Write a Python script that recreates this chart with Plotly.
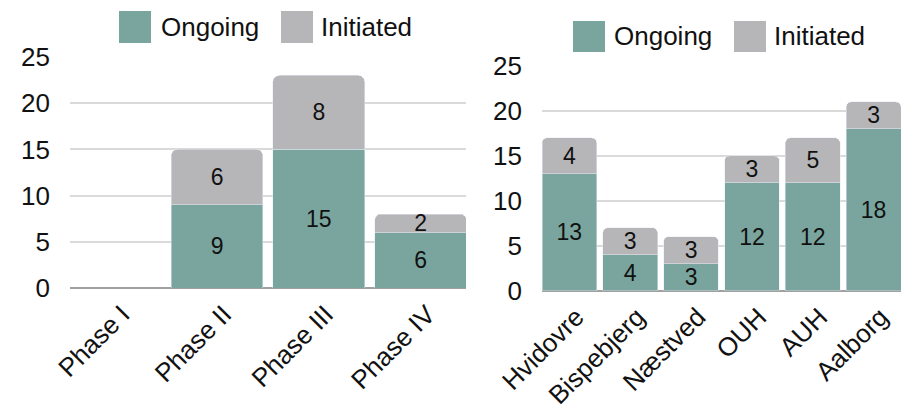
import plotly.graph_objects as go

W, H = 904, 409

phases = ["Phase I", "Phase II", "Phase III", "Phase IV"]
phase_ongoing = [0, 9, 15, 6]
phase_initiated = [0, 6, 8, 2]

sites = ["Hvidovre", "Bispebjerg", "Næstved", "OUH", "AUH", "Aalborg"]
site_ongoing = [13, 4, 3, 12, 12, 18]
site_initiated = [4, 3, 3, 3, 5, 3]

series_names = ["Ongoing", "Initiated"]
TEAL = "#7aa59e"
GRAY = "#b6b6b8"
FONT = "Liberation Sans, Arial, Helvetica, sans-serif"
TXT = "#111111"


def px(x):
    return x / W


def py(y):
    return (H - y) / H


def lbl(vals):
    return [str(v) if v else "" for v in vals]


fig = go.Figure()

fig.add_trace(go.Bar(x=phases, y=phase_ongoing, name=series_names[0], marker=dict(color=TEAL, cornerradius=6),
                     text=lbl(phase_ongoing), textposition="inside", insidetextanchor="middle", textangle=0,
                     textfont=dict(size=23, color=TXT, family=FONT), xaxis="x", yaxis="y", hoverinfo="skip"))
fig.add_trace(go.Bar(x=phases, y=phase_initiated, name=series_names[1], marker=dict(color=GRAY, cornerradius=6),
                     text=lbl(phase_initiated), textposition="inside", insidetextanchor="middle", textangle=0,
                     textfont=dict(size=23, color=TXT, family=FONT), xaxis="x", yaxis="y", hoverinfo="skip"))
fig.add_trace(go.Bar(x=sites, y=site_ongoing, name=series_names[0], marker=dict(color=TEAL, cornerradius=5),
                     text=lbl(site_ongoing), textposition="inside", insidetextanchor="middle", textangle=0,
                     textfont=dict(size=23, color=TXT, family=FONT), xaxis="x2", yaxis="y2", hoverinfo="skip"))
fig.add_trace(go.Bar(x=sites, y=site_initiated, name=series_names[1], marker=dict(color=GRAY, cornerradius=5),
                     text=lbl(site_initiated), textposition="inside", insidetextanchor="middle", textangle=0,
                     textfont=dict(size=23, color=TXT, family=FONT), xaxis="x2", yaxis="y2", hoverinfo="skip"))

common_y = dict(range=[0, 25], dtick=5, showgrid=True, gridcolor="#dadada", gridwidth=1.5,
                zeroline=True, zerolinecolor="#a0a0a0", zerolinewidth=2, showline=False, ticks="",
                tickfont=dict(size=26, color=TXT, family=FONT), fixedrange=True, automargin=False)
common_x = dict(type="category", showgrid=False, zeroline=False, showline=False, ticks="", tickangle=-45,
                tickfont=dict(size=26, color=TXT, family=FONT), fixedrange=True, automargin=False,
                ticklabelstandoff=5, ticklabelshift=7)

fig.update_layout(
    width=W, height=H, margin=dict(l=0, r=0, t=0, b=0, autoexpand=False),
    paper_bgcolor="white", plot_bgcolor="rgba(0,0,0,0)",
    barmode="stack", bargap=0.1, showlegend=False,
    uniformtext=dict(minsize=23, mode="show"),
    font=dict(family=FONT, color=TXT),
    xaxis=dict(common_x, domain=[px(70), px(466)], range=[-0.445, 3.447], anchor="y"),
    yaxis=dict(common_y, domain=[py(288), py(57)], anchor="x", ticklabelstandoff=19),
    xaxis2=dict(common_x, domain=[px(542), px(901)], range=[-0.45, 5.45], anchor="y2"),
    yaxis2=dict(common_y, domain=[py(290.7), py(66)], anchor="x2", ticklabelstandoff=19),
)

# legends (one per panel)
legend_items = [
    # (swatch x0, x1, y0, y1, text x, text y center, color, label)
    (119, 151, 11, 43, 159, 27, TEAL, series_names[0]),
    (281, 313, 11, 43, 319, 27, GRAY, series_names[1]),
    (573, 605, 21, 52, 612, 36, TEAL, series_names[0]),
    (734, 766, 21, 52, 772, 36, GRAY, series_names[1]),
]
for x0, x1, y0, y1, tx, ty, col, name in legend_items:
    fig.add_shape(type="rect", xref="paper", yref="paper", x0=px(x0), x1=px(x1), y0=py(y1), y1=py(y0),
                  fillcolor=col, line=dict(width=0))
    fig.add_annotation(xref="paper", yref="paper", x=px(tx), y=py(ty), text=name, showarrow=False,
                       xanchor="left", yanchor="middle", font=dict(size=26, color=TXT, family=FONT))

fig.write_html("out.html", config={"displayModeBar": False},
               post_script="document.body.style.margin='0px';document.body.style.overflow='hidden';")
